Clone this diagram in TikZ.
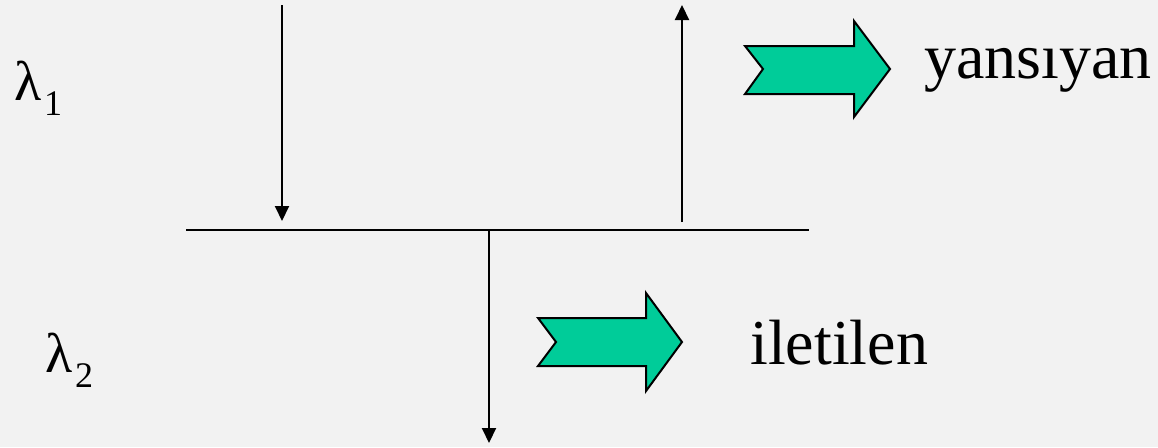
\documentclass[tikz,border=0pt]{standalone}
\usepackage{fontspec}
\setmainfont{Liberation Serif}
\usetikzlibrary{arrows.meta}
\definecolor{bg}{RGB}{242,242,242}
\definecolor{blockgreen}{RGB}{0,204,153}
\tikzset{
  ray/.style={line width=2pt,-{Triangle[length=15pt,width=14pt]}},
  blockarrow/.style={fill=blockgreen,draw=black,line width=2pt,line join=miter},
  bigtext/.style={font=\fontsize{64}{70}\selectfont,inner sep=0pt,anchor=base west},
  lam/.style={font=\fontsize{56}{60}\selectfont,inner sep=0pt,anchor=base west},
  sub/.style={font=\fontsize{36}{40}\selectfont,inner sep=0pt,anchor=base west}
}
\begin{document}
\begin{tikzpicture}[x=1pt,y=-1pt]
\fill[bg] (0,0) rectangle (1158,447);
\useasboundingbox (0,0) rectangle (1158,447);
% interface
\coordinate (L) at (186,230);
\coordinate (R) at (809,230);
\draw[line width=2pt] (L) -- (R);
% incident
\coordinate (inTop) at (282,5);
\coordinate (inTip) at (282,221);
\draw[ray] (inTop) -- (inTip);
% reflected
\coordinate (refBase) at (682,222);
\coordinate (refTip) at (682,5);
\draw[ray] (refBase) -- (refTip);
% transmitted
\coordinate (trBase) at (489,230);
\coordinate (trTip) at (489,443);
\draw[ray] (trBase) -- (trTip);
% block arrows
\draw[blockarrow] (745,46) -- (854,46) -- (854,21) -- (890,69) -- (854,117) -- (854,94) -- (745,94) -- (763,69) -- cycle;
\draw[blockarrow] (538,318) -- (646,318) -- (646,293) -- (682,342) -- (646,391) -- (646,366) -- (538,366) -- (556,342) -- cycle;
% labels
\node[bigtext] (yans) at (924,78) {yansıyan};
\node[bigtext] (ilet) at (750,364) {iletilen};
\node[lam] (l1) at (14,100) {λ};
\node[sub] (s1) at (44,115) {1};
\node[lam] (l2) at (45,372) {λ};
\node[sub] (s2) at (75,387) {2};
\end{tikzpicture}
\end{document}
